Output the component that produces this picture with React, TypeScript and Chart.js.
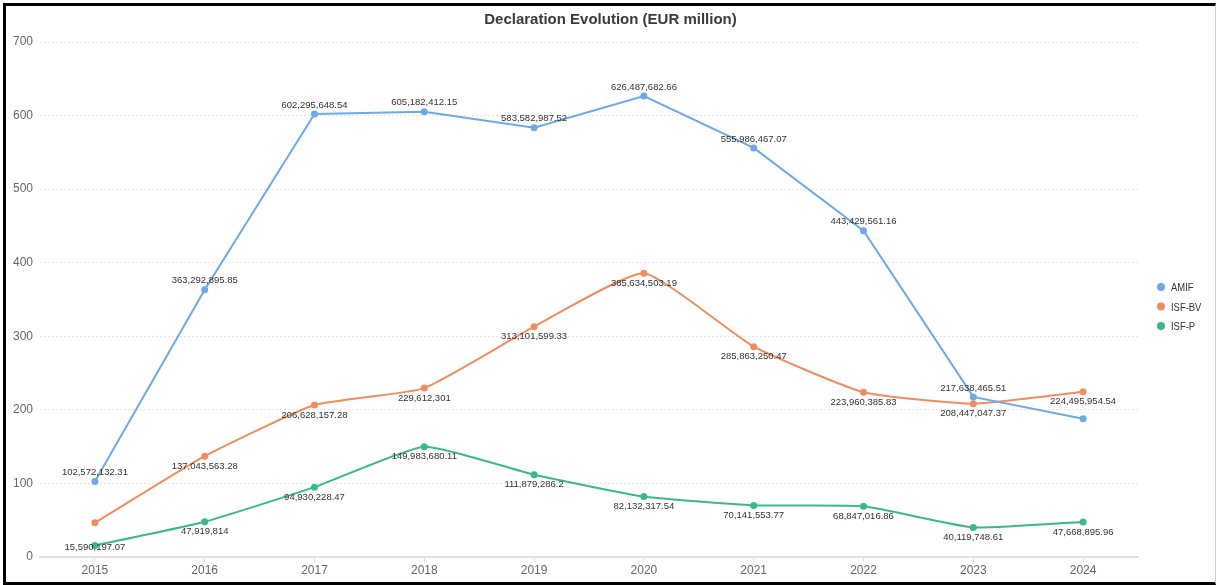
import { useEffect, useRef } from "react";
import { Chart, registerables } from "chart.js";

Chart.register(...registerables);

const TITLE = "Declaration Evolution (EUR million)";
const years = ["2015", "2016", "2017", "2018", "2019", "2020", "2021", "2022", "2023", "2024"];

// Declared amounts in EUR
const amifEur = [
  102572132.31, 363292895.85, 602295648.54, 605182412.15, 583582987.52,
  626487682.66, 555986467.07, 443429561.16, 217638465.51, 187800000,
];
const isfBvEur = [
  46500000, 137043563.28, 206628157.28, 229612301, 313101599.33,
  385634503.19, 285863250.47, 223960385.83, 208447047.37, 224495954.54,
];
const isfPEur = [
  15590197.07, 47919814, 94930228.47, 149983680.11, 111879286.2,
  82132317.54, 70141553.77, 68847016.86, 40119748.61, 47668895.96,
];

// labels not shown in the reference (hidden because of overlap)
const amifHiddenLabels = [9];
const isfBvHiddenLabels = [0];
const isfPHiddenLabels: number[] = [];

const yMin = 0;
const yMax = 700;
const yStep = 100;

const seriesNames = ["AMIF", "ISF-BV", "ISF-P"];
const seriesColors = ["#6fa8e6", "#f08c5e", "#3ab987"];
const seriesTension = [0, 0.15, 0.15];
const labelAbove = [true, false, false];

const fmt = new Intl.NumberFormat("en-US", { maximumFractionDigits: 2 });
const FONT = "'Liberation Sans', Arial, sans-serif";

export default function App() {
  const canvasRef = useRef<HTMLCanvasElement | null>(null);

  useEffect(() => {
    document.body.style.margin = "0";
    const canvas = canvasRef.current;
    if (!canvas) return;

    const rawSeries = [amifEur, isfBvEur, isfPEur];
    const hidden = [amifHiddenLabels, isfBvHiddenLabels, isfPHiddenLabels];

    const overlayPlugin = {
      id: "overlay",
      afterDatasetsDraw(chart: any) {
        const ctx: CanvasRenderingContext2D = chart.ctx;
        const area = chart.chartArea;
        ctx.save();
        // data labels
        ctx.font = `9.5px ${FONT}`;
        ctx.fillStyle = "#333";
        ctx.textAlign = "center";
        ctx.textBaseline = "middle";
        chart.data.datasets.forEach((_ds: any, di: number) => {
          const meta = chart.getDatasetMeta(di);
          meta.data.forEach((pt: any, i: number) => {
            if (hidden[di].includes(i)) return;
            const text = fmt.format(rawSeries[di][i]);
            let y = labelAbove[di] ? pt.y - 9 : pt.y + 10;
            y = Math.min(y, area.bottom - 10);
            ctx.fillText(text, pt.x, y);
          });
        });
        // title
        ctx.font = `bold 15px ${FONT}`;
        ctx.fillStyle = "#3a3a3a";
        ctx.textAlign = "center";
        ctx.textBaseline = "alphabetic";
        ctx.fillText(TITLE, chart.width / 2, 18);
        // legend
        const midY = (area.top + area.bottom) / 2;
        seriesNames.forEach((name, i) => {
          const cy = midY + 7 + (i - 1) * 19.5;
          const cx = area.right + 23;
          ctx.beginPath();
          ctx.fillStyle = seriesColors[i];
          ctx.arc(cx, cy, 4, 0, Math.PI * 2);
          ctx.fill();
          ctx.save();
          ctx.translate(cx + 10, cy);
          ctx.scale(0.82, 1);
          ctx.font = `11.5px ${FONT}`;
          ctx.fillStyle = "#333";
          ctx.textAlign = "left";
          ctx.textBaseline = "middle";
          ctx.fillText(name, 0, 1);
          ctx.restore();
        });
        ctx.restore();
      },
    };

    const chart = new Chart(canvas, {
      type: "line",
      data: {
        labels: years,
        datasets: rawSeries.map((arr, i) => ({
          label: seriesNames[i],
          data: arr.map((v) => v / 1e6),
          borderColor: seriesColors[i],
          backgroundColor: seriesColors[i],
          pointBackgroundColor: seriesColors[i],
          pointBorderColor: seriesColors[i],
          pointRadius: 3.5,
          pointBorderWidth: 0,
          borderWidth: 2,
          tension: seriesTension[i],
          fill: false,
        })),
      },
      options: {
        responsive: false,
        animation: false,
        devicePixelRatio: 1,
        events: [],
        layout: { padding: { top: 36, right: 77, left: 0, bottom: 0 } },
        plugins: {
          legend: { display: false },
          title: { display: false },
          tooltip: { enabled: false },
        },
        scales: {
          x: {
            type: "category",
            offset: true,
            afterFit: (s: any) => {
              s.height = 25;
            },
            grid: {
              drawOnChartArea: false,
              drawTicks: true,
              tickLength: 5,
              color: "#e0e0e0",
              offset: false,
            },
            border: { display: true, color: "#e0e0e0", width: 2 },
            ticks: {
              color: "#666",
              font: { family: FONT, size: 12 },
              padding: 1,
              maxRotation: 0,
              autoSkip: false,
            },
          },
          y: {
            min: yMin,
            max: yMax,
            afterFit: (s: any) => {
              s.width = 34;
            },
            grid: {
              drawTicks: false,
              color: "#e3e3e3",
              lineWidth: 1,
            },
            border: { display: false, dash: [2, 2] },
            ticks: {
              stepSize: yStep,
              color: "#666",
              font: { family: FONT, size: 12 },
              padding: 7,
            },
          },
        },
      },
      plugins: [overlayPlugin],
    } as any);

    return () => chart.destroy();
  }, []);

  return (
    <div
      style={{
        position: "fixed",
        left: 3,
        top: 3,
        width: 1213,
        height: 582,
        boxSizing: "border-box",
        borderTop: "3px solid #000",
        borderLeft: "3px solid #000",
        borderBottom: "3px solid #000",
        borderRight: "1px solid #d0d0d0",
        background: "#fff",
      }}
    >
      <canvas
        ref={canvasRef}
        width={1209}
        height={576}
        style={{ display: "block", width: 1209, height: 576 }}
      />
    </div>
  );
}
